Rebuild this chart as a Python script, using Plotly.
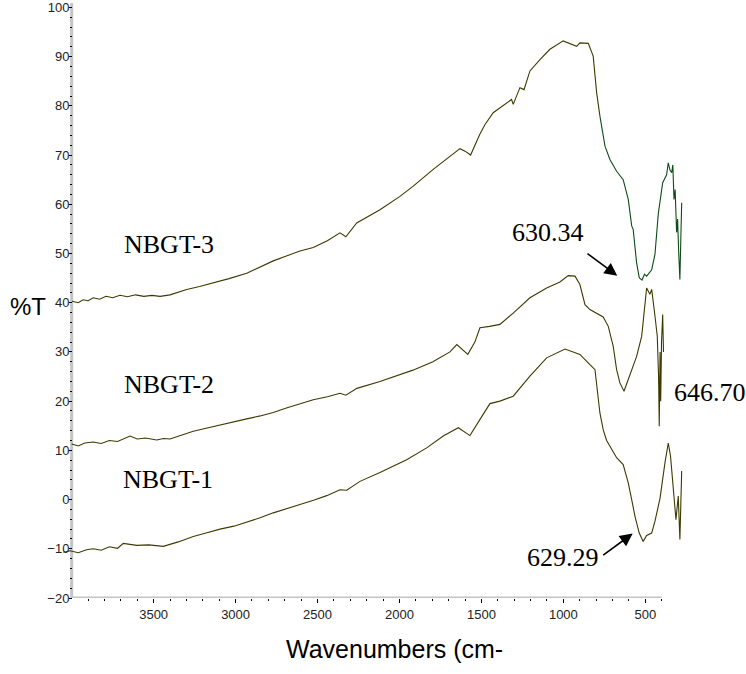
import plotly.graph_objects as go

# ---- data (wavenumber cm-1, %T) ----
wn_nbgt3 = [3998, 3960, 3930, 3900, 3868, 3830, 3790, 3750, 3705, 3660, 3610, 3560, 3510, 3461,
            3400, 3350, 3298, 3220, 3138, 3040, 2932, 2850, 2770, 2690, 2607, 2526, 2440, 2363,
            2327, 2261, 2119,
            1997, 1916, 1794, 1692, 1631, 1600, 1566, 1509, 1478, 1428, 1387, 1316, 1306, 1265,
            1240, 1204, 1143, 1082, 1001, 960, 919, 899, 848, 818, 797, 777, 746, 716, 675, 635,
            604, 583, 574, 553, 537, 520, 505, 492, 461, 441, 430, 421, 394, 370, 360, 350, 339,
            332, 325, 318, 309, 303, 296, 289, 284, 278]
t_nbgt3 = [40.3, 40.0, 40.6, 40.4, 41.0, 40.7, 41.3, 41.0, 41.5, 41.2, 41.6, 41.3, 41.5, 41.3,
           41.6, 42.1, 42.7, 43.3, 44.0, 44.9, 46.0, 47.2, 48.5, 49.5, 50.5, 51.2, 52.6, 54.2,
           53.4, 56.2, 58.9,
           61.6, 63.7, 67.1, 69.8, 71.3, 70.8, 70.0, 74.3, 76.2, 78.6, 79.6, 81.3, 80.3, 83.7,
           83.3, 87.1, 89.4, 91.5, 93.2, 92.6, 92.1, 92.8, 92.7, 90.1, 82.7, 77.9, 71.8, 69.1,
           66.7, 65.0, 61.0, 55.6, 54.9, 48.1, 45.1, 44.6, 45.8, 45.4, 46.7, 49.8, 54.9, 58.0,
           64.4, 66.0, 68.4, 67.0, 66.4, 68.0, 61.0, 63.0, 54.3, 57.0, 50.0, 44.7, 52.0, 60.3]

wn_nbgt2 = [4000, 3960, 3920, 3868, 3820, 3770, 3720, 3680, 3644, 3600, 3550, 3481, 3440, 3400,
            3330, 3258, 3180, 3095, 3010, 2932, 2850, 2770, 2690, 2607, 2526, 2440, 2363, 2327,
            2260, 2119, 1997, 1918, 1796, 1692, 1650, 1613, 1583, 1540, 1509, 1450, 1387, 1306,
            1204, 1102, 1021, 970, 929, 899, 868, 838, 757, 726, 696, 675, 655, 630, 604, 553,
            522, 502, 492, 472, 461, 441, 427, 419, 415, 410, 406, 401, 394, 389]
t_nbgt2 = [11.3, 10.9, 11.5, 11.7, 11.4, 12.0, 11.8, 12.4, 12.9, 12.3, 12.5, 12.1, 12.4, 12.3,
           13.1, 13.9, 14.5, 15.2, 15.8, 16.4, 17.0, 17.7, 18.6, 19.4, 20.3, 20.9, 21.6, 21.2,
           22.6, 24.0, 25.3, 26.3, 28.0, 30.0, 31.5, 30.5, 29.5, 32.0, 34.9, 35.2, 35.6, 37.9,
           41.0, 43.0, 44.2, 45.5, 45.4, 43.7, 39.6, 38.6, 37.1, 35.2, 31.2, 26.4, 23.7, 22.0,
           24.4, 29.1, 33.2, 39.3, 43.0, 41.7, 42.7, 37.3, 33.2, 25.0, 14.9, 30.0, 20.0, 32.0,
           37.6, 30.0]

wn_nbgt1 = [4051, 4010, 3960, 3910, 3868, 3820, 3770, 3720, 3685, 3603, 3530, 3441, 3350, 3258,
            3180, 3095, 3010, 2932, 2850, 2770, 2690, 2607, 2520, 2444, 2363, 2322, 2241, 2119,
            1956, 1834, 1733, 1641, 1570, 1499, 1448, 1387, 1306, 1204, 1102, 990, 899, 838, 807,
            777, 757, 736, 675, 635, 604, 583, 563, 537, 513, 492, 461, 441, 410, 380, 360, 346,
            330, 313, 299, 289, 278]
t_nbgt1 = [-10.7, -10.4, -10.8, -10.2, -10.0, -10.3, -9.6, -9.9, -8.9, -9.3, -9.2, -9.5, -8.6,
           -7.5, -6.8, -6.0, -5.4, -4.6, -3.7, -2.7, -1.9, -1.0, -0.1, 0.8, 2.0, 1.9, 3.7, 5.5,
           8.1, 10.5, 12.9, 14.6, 13.0, 16.8, 19.5, 20.0, 21.0, 25.1, 28.8, 30.6, 29.5, 27.4,
           26.4, 17.6, 14.2, 12.0, 8.5, 7.1, 3.4, 0.0, -3.4, -6.8, -8.5, -7.3, -6.8, -4.4, 0.3,
           7.5, 11.5, 8.8, 2.0, -4.1, 0.7, -8.1, 5.8]

x_major_ticks = [3500, 3000, 2500, 2000, 1500, 1000, 500]
x_tick_labels = ["3500", "3000", "2500", "2000", "1500", "1000", "500"]
x_minor_ticks = list(range(3900, 399, -100))
y_major_ticks = list(range(-20, 101, 10))
y_minor_ticks = list(range(-20, 101, 2))

sample_labels = ["NBGT-3", "NBGT-2", "NBGT-1"]
sample_label_x = [3409, 3409, 3412]
sample_label_y = [51.8, 23.4, 4.1]

OLIVE = "#3d3a00"
GREEN = "#0d4c16"
AXIS_GREY = "#c4c4c4"

split = wn_nbgt3.index(777)

fig = go.Figure()
fig.add_trace(go.Scatter(x=wn_nbgt1, y=t_nbgt1, mode="lines",
                         line=dict(color=OLIVE, width=1.1), hoverinfo="skip"))
fig.add_trace(go.Scatter(x=wn_nbgt2, y=t_nbgt2, mode="lines",
                         line=dict(color=OLIVE, width=1.1), hoverinfo="skip"))
fig.add_trace(go.Scatter(x=wn_nbgt3[:split + 1], y=t_nbgt3[:split + 1], mode="lines",
                         line=dict(color=OLIVE, width=1.1), hoverinfo="skip"))
fig.add_trace(go.Scatter(x=wn_nbgt3[split:], y=t_nbgt3[split:], mode="lines",
                         line=dict(color=GREEN, width=1.1), hoverinfo="skip"))

serif = dict(family="Liberation Serif, Times New Roman, serif", size=26, color="black")
ann = []
for txt, ax_, ay_ in zip(sample_labels, sample_label_x, sample_label_y):
    ann.append(dict(x=ax_, y=ay_, xref="x", yref="y", text=txt, showarrow=False, font=serif,
                    xanchor="center", yanchor="middle"))

ann.append(dict(x=1094, y=54.3, xref="x", yref="y", text="630.34", showarrow=False, font=serif,
                xanchor="center", yanchor="middle"))
ann.append(dict(x=1.0435, y=21.7, xref="paper", yref="y", text="646.70", showarrow=False, font=serif,
                xanchor="center", yanchor="middle"))
ann.append(dict(x=1000, y=-11.8, xref="x", yref="y", text="629.29", showarrow=False, font=serif,
                xanchor="center", yanchor="middle"))
# arrows
ann.append(dict(x=671, y=45.5, ax=862, ay=50.2, axref="x", ayref="y", xref="x", yref="y",
                text="", showarrow=True, arrowhead=2, arrowsize=1.6, arrowwidth=1.6, arrowcolor="black"))
ann.append(dict(x=577, y=-6.9, ax=766, ay=-11.5, axref="x", ayref="y", xref="x", yref="y",
                text="", showarrow=True, arrowhead=2, arrowsize=1.6, arrowwidth=1.6, arrowcolor="black"))

sans = "Liberation Sans, Arial, sans-serif"
ann.append(dict(x=-0.057, y=39.2, xref="paper", yref="y", text="%T", showarrow=False,
                xanchor="center", yanchor="middle",
                font=dict(family=sans, size=24, color="black")))
ann.append(dict(x=0.535, y=-0.085, xref="paper", yref="paper", text="Wavenumbers (cm-",
                showarrow=False, xanchor="center", yanchor="middle",
                font=dict(family=sans, size=25, color="black")))

shapes = [
    dict(type="line", xref="x", yref="y", x0=4000, x1=400, y0=-20, y1=-20,
         line=dict(color=AXIS_GREY, width=3), layer="below"),
    dict(type="line", xref="x", yref="paper", x0=4000, x1=4000, y0=0, y1=1,
         line=dict(color=AXIS_GREY, width=3), layer="below"),
]

fig.update_layout(
    width=746, height=674,
    margin=dict(l=63, r=63, t=3, b=76, autoexpand=False),
    paper_bgcolor="white", plot_bgcolor="white",
    showlegend=False,
    annotations=ann,
    shapes=shapes,
    xaxis=dict(range=[4053, 270], showgrid=False, zeroline=False, showline=False,
               automargin=False,
               tickmode="array", tickvals=x_major_ticks, ticktext=x_tick_labels,
               ticks="outside", ticklen=4, tickwidth=1, tickcolor="black",
               tickfont=dict(family=sans, size=13, color="#222"),
               minor=dict(tickmode="array", tickvals=x_minor_ticks, ticks="outside",
                          ticklen=2, tickwidth=1, tickcolor="black")),
    yaxis=dict(range=[-20, 100.9], showgrid=False, zeroline=False, showline=False,
               automargin=False, ticklabeloverflow="allow",
               anchor="free", position=0.01451,
               tickmode="array", tickvals=y_major_ticks,
               ticks="outside", ticklen=3, tickwidth=1, tickcolor="black",
               ticklabelstandoff=-3,
               tickfont=dict(family=sans, size=13, color="#222"),
               minor=dict(tickmode="array", tickvals=y_minor_ticks, ticks="outside",
                          ticklen=2, tickwidth=1, tickcolor="black")),
)

fig.write_html("out.html", config={"displayModeBar": False},
               post_script="document.body.style.margin='0px';")
